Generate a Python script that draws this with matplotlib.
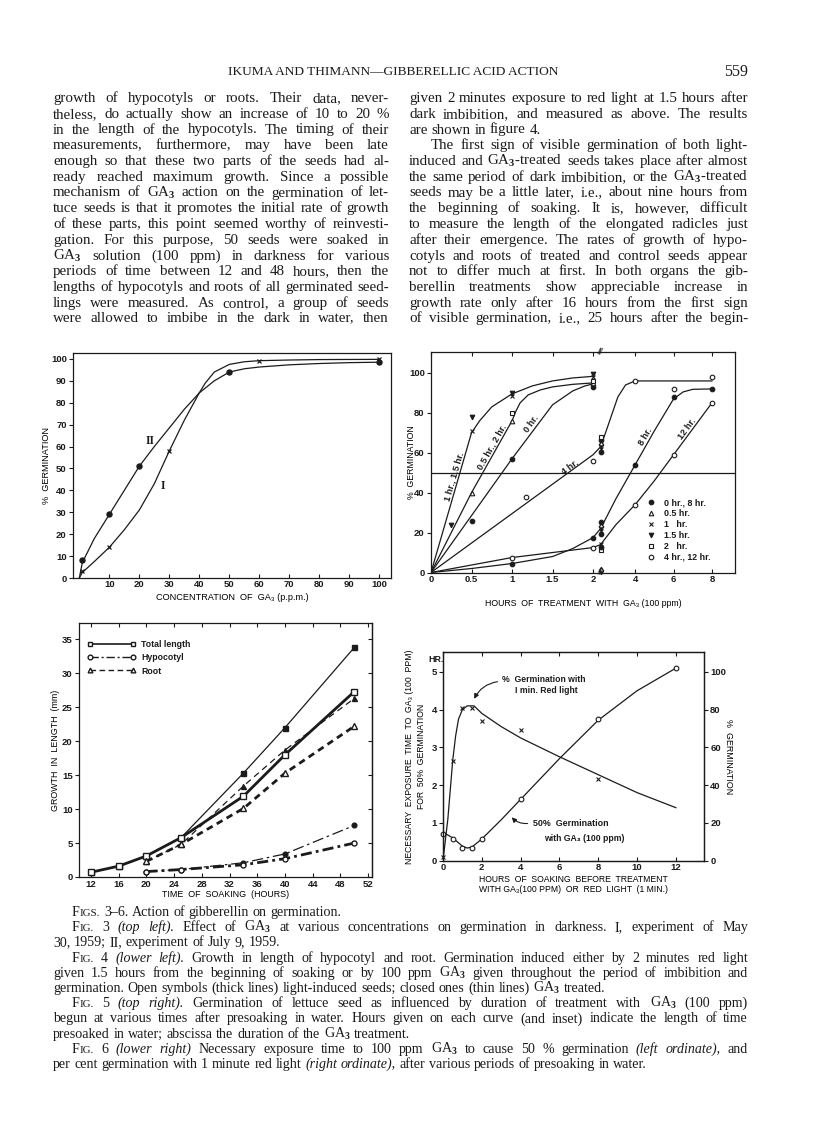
import numpy as np
import matplotlib
matplotlib.use("Agg")
import matplotlib.pyplot as plt
from matplotlib.lines import Line2D

# ---------------- data ----------------
# Fig. 3  % germination vs. GA3 concentration (ppm)
conc_I = [1, 10, 30, 60, 100]
germ_I = [3, 14, 58, 99, 100]
conc_II = [1, 10, 20, 50, 100]
germ_II = [8, 29, 51, 94, 98.5]
# the hand drawn curves
trace_I_x = [0, 1, 5, 10, 15, 20, 25, 30, 35, 40, 42, 45, 50, 55, 60, 70, 80, 100]
trace_I_y = [0, 2.5, 7.5, 14, 22, 31, 43, 58, 72, 84.5, 89, 94, 97.5, 98.7, 99.2, 99.5, 99.7, 99.8]
trace_II_x = [0, 1, 5, 10, 15, 20, 25, 30, 35, 40, 45, 50, 55, 60, 70, 80, 90, 100]
trace_II_y = [0, 7, 18, 29, 40, 51, 60, 68.5, 77, 84.5, 90, 94, 95.5, 96.3, 97.3, 97.9, 98.3, 98.5]

# Fig. 4  growth in length (mm) vs. time of soaking (h)
hrs_total = [12, 16, 20, 25, 34, 40, 50]
total_light = [0.7, 1.6, 3.1, 5.8, 11.9, 18.0, 27.3]
total_ga = [0.7, 1.6, 3.1, 5.8, 15.3, 22.0, 33.8]
hrs_part = [20, 25, 34, 40, 50]
root_light = [2.3, 4.8, 10.1, 15.3, 22.2]
root_ga = [2.3, 4.8, 13.4, 18.7, 26.3]
hypo_light = [0.8, 1.1, 1.8, 2.7, 5.0]
hypo_ga = [0.8, 1.1, 2.1, 3.4, 7.6]

# Fig. 5  % germination vs. hours of GA3 treatment, per presoak time
t_0h, g_0h = [0.5, 1, 2], [26, 57, 93]
t_05h, g_05h = [0.5, 1, 2], [40, 76, 95]
t_1h, g_1h = [0.5, 1, 2], [71, 88.5, 98]
t_15h, g_15h = [0.25, 0.5, 1, 2], [24, 78, 90, 99.5]
t_2h, g_2h = [1, 2], [80, 96]
t_4h, g_4h = [1.17, 2, 4, 6, 8], [38, 56, 96, 92, 98]
t_8h, g_8h = [1, 2, 4, 6, 8], [4.5, 17.5, 54, 88, 92]
t_12h, g_12h = [1, 2, 4, 6, 8], [7.5, 12.5, 34, 59, 85]
brk_t = 2.2   # points stacked just right of the axis break
brk_g = [60.5, 62, 63.5, 65, 66.5, 68, 19.5, 21, 22.5, 24, 25.5, 11.5, 13, 14.5, 0.5, 2]
c1_t = [0, 0.5, 0.6, 0.75, 1, 1.25, 1.5, 1.75, 2]
c1_g = [0, 70, 76, 83, 89.5, 93.5, 96, 97.5, 98.3]
c05_t = [0, 0.5, 1, 1.05, 1.1, 1.2, 1.35, 1.5, 1.75, 2]
c05_g = [0, 40, 76, 81, 85, 89, 91.5, 93, 94.3, 95]
c0_t = [0, 1, 1.5, 1.75, 1.9, 2]
c0_g = [0, 57, 84, 91, 93.5, 94.5]
c4_t = [0, 2, 2.2, 2.6, 3.1, 3.5, 4, 8]
c4_g = [0, 59, 63, 74, 88, 94, 96, 96]
c8_t = [0, 0.5, 1, 1.5, 1.75, 2, 2.2, 3, 4, 5, 6, 6.5, 7, 8]
c8_g = [0, 2, 4.5, 8, 12, 17.5, 22, 37, 54, 71, 87, 90.5, 91.8, 92]
c12_t = [0, 1, 2, 2.2, 3, 4, 5, 6, 7, 8]
c12_g = [0, 7.5, 12.5, 14, 24, 34, 46, 59, 72, 85]
leg5_labels = ["0 hr., 8 hr.", "0.5 hr.", "1   hr.", "1.5 hr.", "2   hr.", "4 hr., 12 hr."]

# Fig. 6  exposure for 50 % germination (h) and % germination with red light
soak_t = [0, 0.5, 1, 1.5, 2, 4, 8, 12]
expo_h = [0.7, 0.58, 0.33, 0.33, 0.58, 1.63, 3.75, 5.1]
red_t = [0, 0.5, 1, 1.5, 2, 4, 8]
red_g = [2, 53, 81, 81, 74, 69, 43]
expo_curve_t = [0, 0.5, 1, 1.25, 1.5, 2, 3, 4, 6, 8, 10, 12]
expo_curve_h = [0.75, 0.6, 0.38, 0.33, 0.36, 0.57, 1.08, 1.62, 2.7, 3.72, 4.5, 5.1]
red_curve_t = [0, 0.25, 0.5, 0.65, 0.8, 1, 1.25, 1.6, 2, 3, 4, 6, 8, 10, 12]
red_curve_g = [0, 22, 53, 66, 75, 80, 82, 82, 78, 71, 65, 55, 45.5, 36, 28]

# page text
header = "IKUMA AND THIMANN\u2014GIBBERELLIC ACID ACTION"
page_no = "559"
left_col = [
    "growth of hypocotyls or roots.  Their data, never-",
    "theless, do actually show an increase of 10 to 20 %",
    "in the length of the hypocotyls.  The timing of their",
    "measurements, furthermore, may have been late",
    "enough so that these two parts of the seeds had al-",
    "ready reached maximum growth.  Since a possible",
    "mechanism of GA$_3$ action on the germination of let-",
    "tuce seeds is that it promotes the initial rate of growth",
    "of these parts, this point seemed worthy of reinvesti-",
    "gation.  For this purpose, 50 seeds were soaked in",
    "GA$_3$ solution (100 ppm) in darkness for various",
    "periods of time between 12 and 48 hours, then the",
    "lengths of hypocotyls and roots of all germinated seed-",
    "lings were measured.  As control, a group of seeds",
    "were allowed to imbibe in the dark in water, then",
]
right_col = [
    "given 2 minutes exposure to red light at 1.5 hours after",
    "dark imbibition, and measured as above.  The results",
    "are shown in figure 4.",
    "The first sign of visible germination of both light-",
    "induced and GA$_3$-treated seeds takes place after almost",
    "the same period of dark imbibition, or the GA$_3$-treated",
    "seeds may be a little later, i.e., about nine hours from",
    "the beginning of soaking.  It is, however, difficult",
    "to measure the length of the elongated radicles just",
    "after their emergence.  The rates of growth of hypo-",
    "cotyls and roots of treated and control seeds appear",
    "not to differ much at first.  In both organs the gib-",
    "berellin treatments show appreciable increase in",
    "growth rate only after 16 hours from the first sign",
    "of visible germination, i.e., 25 hours after the begin-",
]
caption = [
    "^Figs. 3\u20136.  Action of gibberellin on germination.",
    "^Fig. 3 *(top *left).  Effect of GA$_3$ at various concentrations on germination in darkness.  I, experiment of May",
    "30, 1959; II, experiment of July 9, 1959.",
    "^Fig. 4 *(lower *left).  Growth in length of hypocotyl and root.  Germination induced either by 2 minutes red light",
    "given 1.5 hours from the beginning of soaking or by 100 ppm GA$_3$ given throughout the period of imbibition and",
    "germination.  Open symbols (thick lines) light-induced seeds; closed ones (thin lines) GA$_3$ treated.",
    "^Fig. 5 *(top *right).  Germination of lettuce seed as influenced by duration of treatment with GA$_3$ (100 ppm)",
    "begun at various times after presoaking in water.  Hours given on each curve (and inset) indicate the length of time",
    "presoaked in water; abscissa the duration of the GA$_3$ treatment.",
    "^Fig. 6 *(lower *right)  Necessary exposure time to 100 ppm GA$_3$ to cause 50 % germination *(left *ordinate), and",
    "per cent germination with 1 minute red light *(right *ordinate), after various periods of presoaking in water.",
]

# ---------------- style ----------------
W, H = 816, 1121
INK = "#1b1b1b"
SERIF = "Liberation Serif"
plt.rcParams.update({
    "font.family": ["Liberation Sans", "DejaVu Sans"],
    "font.weight": "bold",
    "mathtext.fontset": "custom",
    "mathtext.rm": "Liberation Serif",
    "mathtext.it": "Liberation Serif:italic",
    "mathtext.bf": "Liberation Serif:bold",
    "axes.linewidth": 0.9,
    "axes.edgecolor": INK,
    "text.color": INK,
    "xtick.color": INK, "ytick.color": INK,
    "xtick.labelsize": 6.8, "ytick.labelsize": 6.8,
    "xtick.major.size": 3, "ytick.major.size": 3,
    "xtick.major.width": 0.8, "ytick.major.width": 0.8,
    "xtick.major.pad": 1.5, "ytick.major.pad": 1.5,
    "xtick.direction": "in", "ytick.direction": "out",
})

fig = plt.figure(figsize=(W / 100, H / 100), dpi=100)
rend = fig.canvas.get_renderer()


def frac(x, y):
    return x / W, 1 - y / H


def box(l, t, r, b):
    return fig.add_axes([l / W, 1 - b / H, (r - l) / W, (b - t) / H])


def pieces(tok, size):
    if tok.startswith("*"):
        return [(tok[1:], size, "italic")]
    if tok.startswith("^"):
        w = tok[1:]
        return [(w[0], size, "normal"), (w[1:].upper(), size * 0.78, "normal")]
    return [(tok, size, "normal")]


def set_line(line, x0, x1, y, size, justify=True):
    words = []
    for tok in line.split():
        arts = [fig.text(0, 0, s, fontsize=fs, fontstyle=st, family=SERIF,
                         fontweight="normal", color=INK, va="baseline", ha="left")
                for s, fs, st in pieces(tok, size)]
        words.append([arts, [a.get_window_extent(rend).width for a in arts]])
    total = sum(sum(ws) for _, ws in words)
    em = size * 100 / 72
    gap = em * 0.26
    if justify and len(words) > 1:
        gap = (x1 - x0 - total) / (len(words) - 1)
        if gap < 0.15 * em:      # too long for the measure: shrink the line a bit
            gap = 0.15 * em
            k = (x1 - x0 - gap * (len(words) - 1)) / total
            for w in words:
                for a in w[0]:
                    a.set_fontsize(a.get_fontsize() * k)
                w[1] = [v * k for v in w[1]]
    x = x0
    for arts, ws in words:
        for a, w in zip(arts, ws):
            a.set_position(frac(x, y))
            x += w
        x += gap


# ---------------- page text ----------------
fig.text(*frac(393, 75), header, family=SERIF, fontweight="normal", fontsize=9.6,
         ha="center", va="baseline")
fig.text(*frac(748, 76), page_no, family=SERIF, fontweight="normal", fontsize=11.5,
         ha="right", va="baseline")
for i, line in enumerate(left_col):
    set_line(line, 53, 389, 102 + i * 15.75, 10.8)
for i, line in enumerate(right_col):
    set_line(line, 431 if i == 3 else 409, 748, 102 + i * 15.75, 10.8, justify=(i != 2))
for i, line in enumerate(caption):
    indent = i in (0, 1, 3, 6, 9)
    set_line(line, 72 if indent else 53, 748, 916 + i * 15.2, 10.1,
             justify=i not in (0, 2, 5, 8, 10))

# ---------------- Fig. 3 ----------------
ax3 = box(73, 353, 391, 578)
ax3.plot(trace_I_x, trace_I_y, color=INK, lw=0.9)
ax3.plot(trace_II_x, trace_II_y, color=INK, lw=0.9)
ax3.plot(conc_I, germ_I, "x", color=INK, ms=3.5, mew=0.9, clip_on=False)
ax3.plot(conc_II, germ_II, "o", color=INK, ms=3.6, clip_on=False)
ax3.text(22, 61, "II", family=SERIF, fontsize=8.5, fontweight="bold")
ax3.text(27, 40.5, "I", family=SERIF, fontsize=8.5, fontweight="bold")
ax3.set_xlim(-2.1, 103.9)
ax3.set_ylim(0, 102.7)
ax3.set_xticks(range(10, 101, 10))
ax3.set_yticks(range(0, 101, 10))
ax3.set_xlabel("CONCENTRATION  OF  GA\u2083 (p.p.m.)", fontsize=6.6, labelpad=3)
ax3.set_ylabel("%  GERMINATION", fontsize=6.6)
ax3.yaxis.set_label_coords(-0.07, 0.5)

# ---------------- Fig. 5 ----------------
def brk_fwd(x):
    x = np.asarray(x, float)
    return np.where(x <= 2, x, np.where(x <= 2.1, 2 + (x - 2) * 0.7, 2.07 + (x - 2.1) * 0.237))


def brk_inv(u):
    u = np.asarray(u, float)
    return np.where(u <= 2, u, np.where(u <= 2.07, 2 + (u - 2) / 0.7, 2.1 + (u - 2.07) / 0.237))


ax5 = box(431, 352, 735, 572.5)
ax5.set_xscale("function", functions=(brk_fwd, brk_inv))
ax5.set_xlim(0, 9.2)
ax5.set_ylim(0, 110.5)
for tt, gg in [(c1_t, c1_g), (c05_t, c05_g), (c0_t, c0_g), (c4_t, c4_g), (c8_t, c8_g), (c12_t, c12_g)]:
    ax5.plot(tt, gg, color=INK, lw=0.9)
ax5.axhline(50, color=INK, lw=0.9)
mk = dict(color=INK, ms=3.3, mew=0.8, ls="none", clip_on=False)
ax5.plot(t_0h, g_0h, "o", **mk)
ax5.plot(t_05h, g_05h, "^", mfc="white", **mk)
ax5.plot(t_1h, g_1h, "x", **mk)
ax5.plot(t_15h, g_15h, "v", **mk)
ax5.plot(t_2h, g_2h, "s", mfc="white", **mk)
ax5.plot(t_4h, g_4h, "o", mfc="white", **mk)
ax5.plot(t_8h, g_8h, "o", **mk)
ax5.plot(t_12h, g_12h, "o", mfc="white", **mk)
cyc = ["o", "x", "v", "^", "o", "s"]
for k, g in enumerate(brk_g):
    ax5.plot([brk_t], [g], cyc[k % len(cyc)], mfc=INK if k % 2 == 0 else "white", **mk)
for yb in (0, 110.5):
    ax5.text(2.17, yb, "//", ha="center", va="center", fontsize=6.5, rotation=-15, clip_on=False)


def slope_deg(ax, p, q):
    a = ax.transData.transform([p, q])
    return np.degrees(np.arctan2(a[1, 1] - a[0, 1], a[1, 0] - a[0, 0]))


lab5 = [("1 hr., 1.5 hr.", (0.34, 47.6), (0, 0), (0.5, 70)),
        ("0.5 hr., 2 hr.", (0.8, 61.6), (0.5, 40), (1, 76)),
        ("0 hr.", (1.28, 73), (0, 0), (1, 57)),
        ("4 hr.", (1.75, 51), (0, 0), (2, 59)),
        ("8 hr.", (4.75, 66.8), (4, 54), (6, 87)),
        ("12 hr.", (6.9, 70.7), (6, 59), (8, 85))]
for s, xy, p, q in lab5:
    ax5.text(*xy, s, rotation=slope_deg(ax5, p, q), rotation_mode="anchor",
             ha="center", va="bottom", fontsize=6.6)
ax5.set_xticks([0, 0.5, 1, 1.5, 2, 4, 6, 8])
ax5.set_xticklabels(["0", "0.5", "1", "1.5", "2", "4", "6", "8"])
ax5.xaxis.set_minor_locator(matplotlib.ticker.NullLocator())
ax5.tick_params(axis="x", top=True)
ax5.set_yticks(range(0, 101, 20))
ax5.set_xlabel("HOURS  OF  TREATMENT  WITH  GA\u2083 (100 ppm)", fontsize=6.3, labelpad=11)
ax5.set_ylabel("%  GERMINATION", fontsize=6.3)
ax5.yaxis.set_label_coords(-0.05, 0.5)
hd5 = [Line2D([], [], ls="none", marker=m, mfc=f, mec=INK, color=INK, ms=3.3, mew=0.8)
       for m, f in [("o", INK), ("^", "white"), ("x", INK), ("v", INK), ("s", "white"), ("o", "white")]]
ax5.legend(hd5, leg5_labels, loc="lower left", bbox_to_anchor=(0.69, 0.02), frameon=False,
           handlelength=1.0, handletextpad=0.9, labelspacing=0.22, borderpad=0.2,
           prop=dict(size=6.4, weight="bold"))

# ---------------- Fig. 4 ----------------
ax4 = box(79, 623, 372, 877)
thin, thick = 0.9, 2.0
ax4.plot(hrs_total, total_ga, "-s", color=INK, lw=thin, ms=3.6, clip_on=False)
ax4.plot(hrs_part, root_ga, "^", ls=(0, (5, 3.5)), color=INK, lw=thin, ms=3.6)
ax4.plot(hrs_part, hypo_ga, "o", ls=(0, (9, 3, 2, 3)), color=INK, lw=thin, ms=3.4)
ax4.plot(hrs_total, total_light, "-s", color=INK, lw=thick, ms=3.8, mfc="white", mew=1.0, clip_on=False)
ax4.plot(hrs_part, root_light, "^", ls=(0, (2.4, 1.7)), color=INK, lw=thick, ms=3.8, mfc="white", mew=1.0)
ax4.plot(hrs_part, hypo_light, "o", ls=(0, (4, 1.5, 1, 1.5)), color=INK, lw=thick, ms=3.6, mfc="white", mew=1.0)
ax4.set_xlim(10.27, 52.55)
ax4.set_ylim(0, 37.4)
ax4.set_xticks(range(12, 53, 4))
ax4.set_yticks(range(0, 36, 5))
ax4.tick_params(axis="x", top=True, pad=2)
sec4 = ax4.secondary_yaxis("right")
sec4.set_yticks(range(0, 36, 5))
sec4.tick_params(direction="in", labelright=False)
ax4.set_xlabel("TIME  OF  SOAKING  (HOURS)", fontsize=6.4, labelpad=1)
ax4.set_ylabel("GROWTH  IN  LENGTH  (mm)", fontsize=6.4)
ax4.yaxis.set_label_coords(-0.066, 0.5)
hd4 = [Line2D([], [], color=INK, lw=1.2, ls="-", marker="s", mfc="white", ms=3.4),
       Line2D([], [], color=INK, lw=1.0, ls=(0, (6, 2, 1.5, 2)), marker="o", mfc="white", ms=3.4),
       Line2D([], [], color=INK, lw=1.0, ls=(0, (4, 2.5)), marker="^", mfc="white", ms=3.4)]
ax4.legend(hd4, ["Total length", "Hypocotyl", "Root"], loc="upper left", bbox_to_anchor=(0.0, 0.965),
           numpoints=2, handlelength=5.6, handletextpad=0.6, labelspacing=0.5, frameon=False,
           prop=dict(size=6.3, weight="bold"))

# ---------------- Fig. 6 ----------------
ax6 = box(443, 652.3, 704, 860.5)
ax6.plot(expo_curve_t, expo_curve_h, color=INK, lw=0.9)
ax6.plot(soak_t, expo_h, "o", color=INK, mfc="white", ms=3.4, mew=0.8, clip_on=False)
ax6.set_xlim(0, 13.45)
ax6.set_ylim(0, 5.52)
ax6r = ax6.twinx()
ax6r.plot(red_curve_t, red_curve_g, color=INK, lw=0.9)
ax6r.plot(red_t, red_g, "x", color=INK, ms=3.4, mew=0.8, clip_on=False)
ax6r.set_ylim(0, 110.4)
ax6r.set_yticks(range(0, 101, 20))
ax6.set_xticks(range(0, 13, 2))
ax6.set_yticks(range(0, 6))
ax6.tick_params(axis="x", top=True, pad=2)
ax6.text(0.05, 5.32, "HR.", ha="right", va="center", fontsize=6.4)
ax6.annotate("", xy=(1.55, 4.22), xytext=(2.95, 4.75),
             arrowprops=dict(arrowstyle="-|>", color=INK, lw=0.8, mutation_scale=7,
                             connectionstyle="arc3,rad=0.3"))
ax6.text(3.05, 4.79, "%  Germination with", va="center", fontsize=6.2)
ax6.text(3.7, 4.52, "I min. Red light", va="center", fontsize=6.2)
ax6.annotate("", xy=(3.45, 1.2), xytext=(4.5, 0.99),
             arrowprops=dict(arrowstyle="-|>", color=INK, lw=0.8, mutation_scale=7,
                             connectionstyle="arc3,rad=-0.3"))
ax6.text(4.62, 0.99, "50%  Germination", va="center", fontsize=6.4)
ax6.text(5.2, 0.59, "with GA\u2083 (100 ppm)", va="center", fontsize=6.2)
ax6.set_xlabel("HOURS  OF  SOAKING  BEFORE  TREATMENT\nWITH GA\u2083(100 PPM)  OR  RED  LIGHT  (1 MIN.)",
               fontsize=6.2, labelpad=2, linespacing=1.1)
ax6.set_ylabel("NECESSARY  EXPOSURE  TIME  TO  GA\u2083 (100  PPM)\nFOR  50%  GERMINATION",
               fontsize=6.2, linespacing=1.5)
ax6.yaxis.set_label_coords(-0.065, 0.5)
ax6r.set_ylabel("%  GERMINATION", fontsize=6.4, rotation=270)
ax6r.yaxis.set_label_coords(1.11, 0.5)

fig.savefig("out.png", dpi=100, facecolor="white")
